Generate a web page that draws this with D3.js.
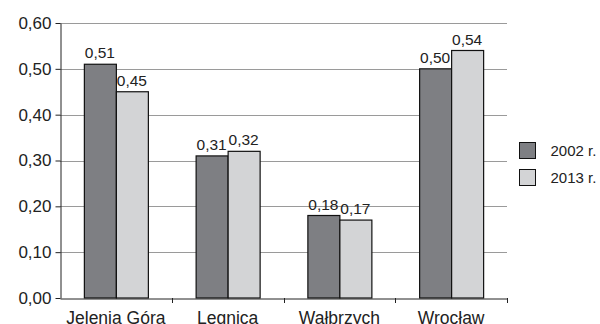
<!DOCTYPE html>
<html>
<head>
<meta charset="utf-8">
<script src="https://cdn.jsdelivr.net/npm/d3@7"></script>
<style>
  body { margin: 0; background: #fff; }
  svg { display: block; font-family: Arial, "Liberation Sans", sans-serif; }
</style>
</head>
<body>
<svg id="chart" width="600" height="324"></svg>
<script>
const categories = ["Jelenia Góra", "Legnica", "Wałbrzych", "Wrocław"]
const seriesNames = ["2002 r.", "2013 r."]
const values2002 = [0.51, 0.31, 0.18, 0.50]
const values2013 = [0.45, 0.32, 0.17, 0.54]
const yTicks = [0, 0.1, 0.2, 0.3, 0.4, 0.5, 0.6]

const colors = ["#7e7f83", "#d3d4d6"]
const fmt = v => d3.format(".2f")(v).replace(".", ",")

const svg = d3.select("#chart")
const plotLeft = 60, plotRight = 507, plotTop = 23, plotBottom = 298

const x = d3.scaleBand().domain(categories).range([plotLeft, plotRight])
const xs = d3.scaleBand().domain(seriesNames).range([0, 64])
const y = d3.scaleLinear().domain([0, 0.6]).range([plotBottom, plotTop])

// gridlines
svg.append("g")
    .selectAll("line")
    .data(yTicks.filter(d => d > 0))
    .join("line")
    .attr("x1", plotLeft).attr("x2", plotRight)
    .attr("y1", d => Math.round(y(d)) + 0.5).attr("y2", d => Math.round(y(d)) + 0.5)
    .attr("stroke", "#9a9a9a")
    .attr("stroke-width", 1)

// bars
const rows = categories.map((c, i) => ({ cat: c, vals: [values2002[i], values2013[i]] }))
const group = svg.append("g")
    .selectAll("g")
    .data(rows)
    .join("g")
    .attr("transform", d => `translate(${x(d.cat) + x.bandwidth() / 2 - 32},0)`)

group.selectAll("rect")
    .data(d => d.vals.map((v, j) => ({ v, s: seriesNames[j], j })))
    .join("rect")
    .attr("x", d => xs(d.s) + 0.5)
    .attr("y", d => y(d.v))
    .attr("width", xs.bandwidth())
    .attr("height", d => plotBottom - y(d.v))
    .attr("fill", d => colors[d.j])
    .attr("stroke", "#111")
    .attr("stroke-width", 1.2)

group.selectAll("text")
    .data(d => d.vals.map((v, j) => ({ v, s: seriesNames[j] })))
    .join("text")
    .attr("x", d => xs(d.s) + xs.bandwidth() / 2)
    .attr("y", d => y(d.v) - 6)
    .attr("text-anchor", "middle")
    .attr("font-size", 15.5)
    .attr("fill", "#222")
    .text(d => fmt(d.v))

// y axis
const yAxis = svg.append("g")
    .attr("transform", `translate(${plotLeft + 0.5},0)`)
    .call(d3.axisLeft(y).tickValues(yTicks).tickFormat(fmt).tickSize(5).tickSizeOuter(0))
yAxis.selectAll("text").attr("font-size", 17).attr("fill", "#222").attr("dx", "-1")
yAxis.selectAll("line, path").attr("stroke", "#222")

// x axis
const xAxis = svg.append("g")
    .attr("transform", `translate(0,${plotBottom + 0.5})`)
    .call(d3.axisBottom(x).tickSize(0).tickSizeOuter(0))
xAxis.select("path").attr("stroke", "#222")
xAxis.selectAll("text").attr("font-size", 17.5).attr("fill", "#222").attr("dy", "1.3em")
svg.append("g")
    .selectAll("line")
    .data(categories.map(c => x(c)).concat([plotRight]).slice(1))
    .join("line")
    .attr("x1", d => Math.round(d) + 0.5).attr("x2", d => Math.round(d) + 0.5)
    .attr("y1", plotBottom).attr("y2", plotBottom + 5)
    .attr("stroke", "#222")

// legend
const legend = svg.append("g")
    .selectAll("g")
    .data(seriesNames)
    .join("g")
    .attr("transform", (d, i) => `translate(519.5,${142.5 + i * 27})`)
legend.append("rect")
    .attr("width", 16).attr("height", 16)
    .attr("fill", (d, i) => colors[i])
    .attr("stroke", "#111")
legend.append("text")
    .attr("x", 31).attr("y", 13.5)
    .attr("font-size", 15)
    .attr("fill", "#222")
    .text(d => d)
</script>
</body>
</html>
